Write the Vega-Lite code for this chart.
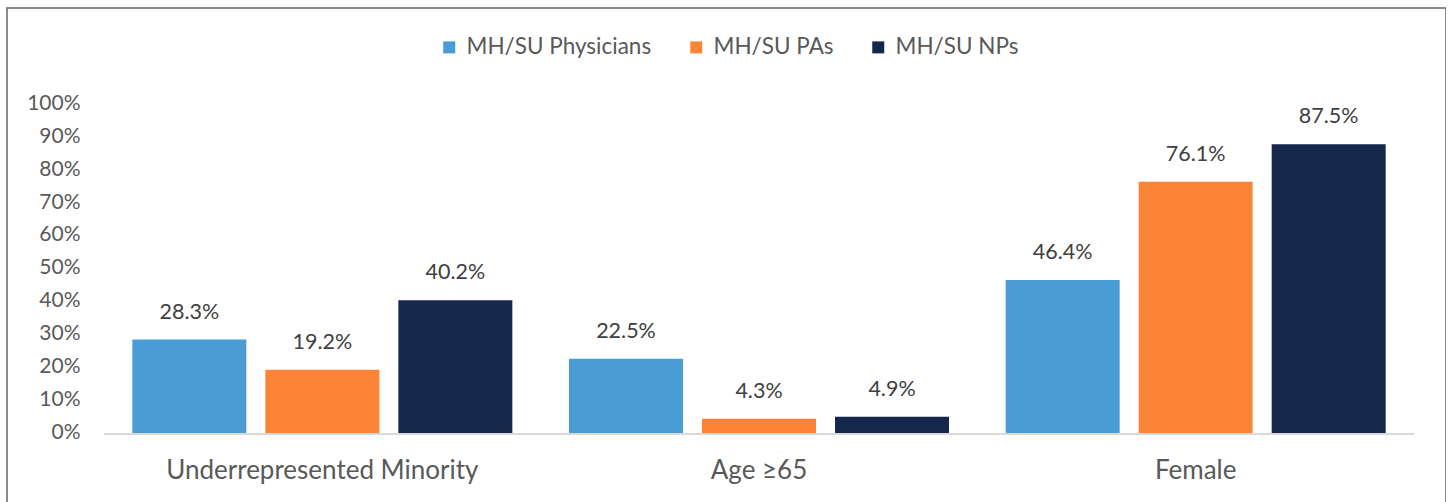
{
  "$schema": "https://vega.github.io/schema/vega-lite/v6.json",
  "width": 1439,
  "height": 500,
  "autosize": {"type": "none"},
  "padding": {"left": 7, "top": 8, "right": 0, "bottom": 0},
  "background": "white",
  "config": {
    "view": {"stroke": "#666666", "strokeWidth": 1.5},
    "font": "Lato",
    "text": {"font": "Lato"}
  },
  "data": {
    "values": [
      {"group": "Underrepresented Minority", "series": "MH/SU Physicians", "value": 0.283},
      {"group": "Underrepresented Minority", "series": "MH/SU PAs", "value": 0.192},
      {"group": "Underrepresented Minority", "series": "MH/SU NPs", "value": 0.402},
      {"group": "Age ≥65", "series": "MH/SU Physicians", "value": 0.225},
      {"group": "Age ≥65", "series": "MH/SU PAs", "value": 0.043},
      {"group": "Age ≥65", "series": "MH/SU NPs", "value": 0.049},
      {"group": "Female", "series": "MH/SU Physicians", "value": 0.464},
      {"group": "Female", "series": "MH/SU PAs", "value": 0.761},
      {"group": "Female", "series": "MH/SU NPs", "value": 0.875}
    ]
  },
  "encoding": {
    "x": {
      "field": "group",
      "type": "nominal",
      "sort": ["Underrepresented Minority", "Age ≥65", "Female"],
      "scale": {"paddingInner": 0, "paddingOuter": 0.1477, "align": 0.752},
      "axis": {
        "title": null,
        "orient": "bottom",
        "domain": false,
        "ticks": false,
        "labelAngle": 0,
        "offset": -75,
        "labelPadding": 24,
        "labelLimit": 0,
        "labelFont": "Lato",
        "labelFontSize": 26,
        "labelColor": "#595959"
      }
    },
    "y": {
      "field": "value",
      "type": "quantitative",
      "scale": {"domain": [-0.2273, 1.2879], "nice": false, "zero": false},
      "axis": {
        "title": null,
        "values": [0, 0.1, 0.2, 0.3, 0.4, 0.5, 0.6, 0.7, 0.8, 0.9, 1],
        "format": ".0%",
        "grid": false,
        "domain": false,
        "ticks": false,
        "offset": -73,
        "labelPadding": 0,
        "labelFont": "Lato",
        "labelFontSize": 21,
        "labelColor": "#595959"
      }
    }
  },
  "layer": [
    {
      "mark": {"type": "rect", "color": "#d9d9d9"},
      "encoding": {
        "y": {"datum": 0, "type": "quantitative"},
        "y2": {"datum": -0.006}
      }
    },
    {
      "mark": {"type": "bar"},
      "encoding": {
        "xOffset": {
          "field": "series",
          "type": "nominal",
          "sort": ["MH/SU Physicians", "MH/SU PAs", "MH/SU NPs"],
          "scale": {"paddingInner": 0.143, "paddingOuter": 0.213}
        },
        "y2": {"datum": 0},
        "color": {
          "field": "series",
          "type": "nominal",
          "sort": ["MH/SU Physicians", "MH/SU PAs", "MH/SU NPs"],
          "scale": {
            "domain": ["MH/SU Physicians", "MH/SU PAs", "MH/SU NPs"],
            "range": ["#4a9cd4", "#fc8436", "#15284b"]
          },
          "legend": {
            "title": null,
            "orient": "none",
            "direction": "horizontal",
            "legendX": 431,
            "legendY": 28,
            "symbolType": "square",
            "symbolSize": 144,
            "symbolStrokeWidth": 0,
            "labelLimit": 0,
            "labelFont": "Lato",
            "labelFontSize": 22.5,
            "labelColor": "#595959",
            "labelOffset": 6,
            "columnPadding": 33
          }
        }
      }
    },
    {
      "mark": {"type": "text", "baseline": "alphabetic", "dy": -21, "fontSize": 21.5, "color": "#404040", "font": "Lato"},
      "encoding": {
        "xOffset": {
          "field": "series",
          "type": "nominal",
          "sort": ["MH/SU Physicians", "MH/SU PAs", "MH/SU NPs"]
        },
        "text": {"field": "value", "type": "quantitative", "format": ".1%"}
      }
    }
  ]
}
